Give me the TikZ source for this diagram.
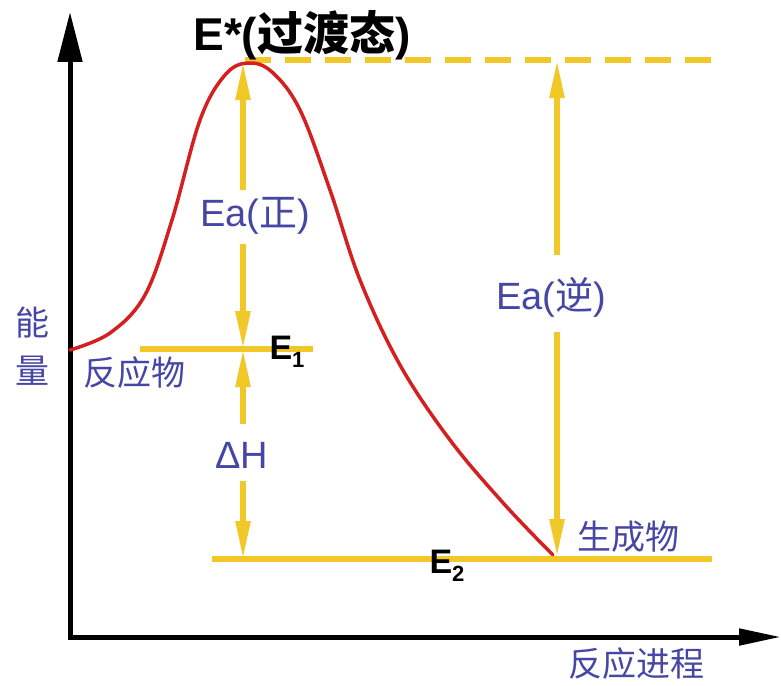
\documentclass[tikz,border=0pt]{standalone}
\usepackage{fontspec}
\setmainfont{Liberation Sans}
\newfontfamily\cjk{Noto Sans CJK SC}
\usetikzlibrary{arrows.meta}
\definecolor{ylw}{RGB}{242,200,40}
\definecolor{crv}{RGB}{212,32,32}
\definecolor{txtb}{RGB}{70,70,165}
\tikzset{
  yaxis/.style={line width=5pt,-{Triangle[width=24pt,length=50pt]}},
  xaxis/.style={line width=5pt,-{Triangle[width=16pt,length=42pt]}},
  yline/.style={ylw,line width=5.5pt},
  yarr/.style={ylw,line width=5.5pt,-{Triangle[width=14pt,length=38pt]}},
  btxt/.style={text=txtb,font=\fontsize{38}{40}\selectfont,inner sep=0pt},
  ctxt/.style={text=txtb,font=\cjk\fontsize{34}{36}\selectfont,inner sep=0pt},
  ktxt/.style={text=black,font=\fontsize{34}{36}\selectfont\bfseries,inner sep=0pt},
}
\begin{document}
\begin{tikzpicture}[x=1pt,y=-1pt]
\useasboundingbox[fill=white] (0,0) rectangle (781,685);
% axes
\coordinate (O) at (70,637);
\coordinate (ytop) at (70,12);
\coordinate (xend) at (781,637);
\draw[yaxis] (70,640) -- (ytop);
\draw[xaxis] (67.5,637) -- (xend);
% levels
\coordinate (E1l) at (140,349);
\coordinate (E1r) at (313,349);
\coordinate (E2l) at (212,559);
\coordinate (E2r) at (712,559);
\coordinate (Dl) at (245,60);
\coordinate (Dr) at (712,60);
\draw[yline] (E1l) -- (E1r);
\draw[yline] (E2l) -- (E2r);
\draw[yline,dash pattern=on 26pt off 14pt] (Dl) -- (Dr);
% curve
\draw[crv,line width=3.5pt,line cap=round] plot[smooth,tension=0.6] coordinates {
 (70,350) (110,333) (145,295) (172,220) (200,120) (225,75) (248,63)
 (272,72) (300,110) (330,190) (360,280) (400,365) (450,440) (505,505) (553,555)};
% labels
\node[ktxt,font=\fontsize{46}{48}\selectfont\bfseries] (Estar) at (302,35) {E*({\cjk 过渡态})};
\node[btxt] (eaf) at (255,216) {Ea({\cjk 正})};
\node[btxt] (dH) at (242,455) {ΔH};
\node[btxt] (ear) at (551,297) {Ea({\cjk 逆})};
\node[ktxt] (E1) at (287,352) {E\raisebox{-0.45ex}{\fontsize{22}{22}\selectfont 1}};
\node[ktxt] (E2) at (447,566) {E\raisebox{-0.45ex}{\fontsize{22}{22}\selectfont 2}};
\node[ctxt] (react) at (134,373) {反应物};
\node[ctxt] (prod) at (628,537) {生成物};
\node[ctxt] (prog) at (636,664) {反应进程};
\node[ctxt,align=center] (energy) at (32,346) {能\\[12pt]量};
% arrows
\coordinate (pA) at (243,62);
\coordinate (e1A) at (243,349);
\coordinate (e2A) at (243,559);
\coordinate (pB) at (557,60);
\coordinate (e2B) at (557,557);
\draw[yarr] ([yshift=7pt]eaf.north -| pA) -- (pA);
\draw[yarr] ([yshift=-9pt]eaf.south -| e1A) -- (e1A);
\draw[yarr] ([yshift=18pt]dH.north -| e1A) -- (e1A);
\draw[yarr] ([yshift=-13pt]dH.south -| e2A) -- (e2A);
\draw[yarr] ([yshift=22pt]ear.north -| pB) -- (pB);
\draw[yarr] ([yshift=-15pt]ear.south -| pB) -- (e2B);
\end{tikzpicture}
\end{document}
